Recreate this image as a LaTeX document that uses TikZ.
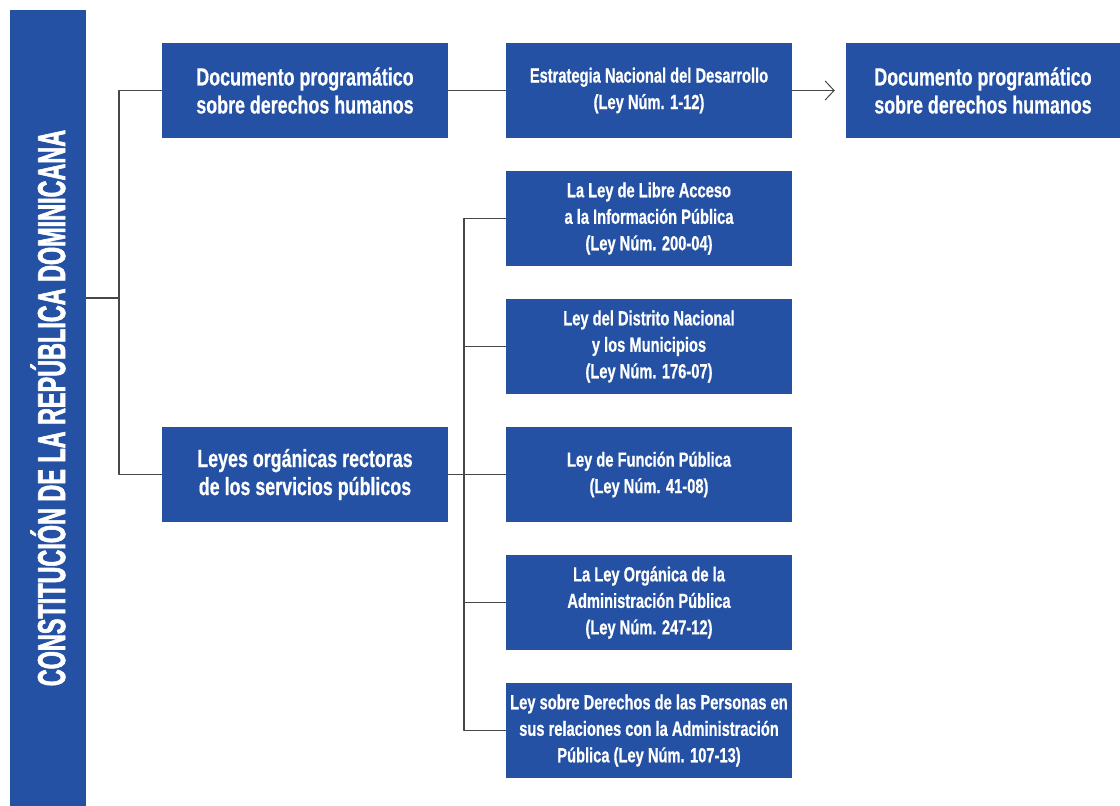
\documentclass[tikz,border=0pt]{standalone}
\usepackage{fontspec}
\usetikzlibrary{arrows.meta}
\newfontfamily\boxfont[FakeStretch=0.72,FakeBold=0.6]{Liberation Sans}
\newfontfamily\barfont[FakeStretch=0.6,FakeBold=1.5]{Liberation Sans}
\definecolor{rdblue}{RGB}{36,81,163}
\begin{document}
\begin{tikzpicture}[x=1pt,y=-1pt,line join=round,
	box/.style={fill=rdblue,text=white,align=center,inner sep=0pt,minimum width=286pt,minimum height=95pt,font=\boxfont\bfseries\fontsize{24.8}{28}\selectfont},
	ley/.style={box,font=\boxfont\bfseries\fontsize{20.4}{26.5}\selectfont},
	link/.style={draw=black!72,line width=1.3pt}]
	\useasboundingbox (0,0) rectangle (1120,806);
	\node[fill=rdblue,text=white,rotate=90,minimum width=796pt,minimum height=76pt,inner sep=0pt] (con) at (48,408)
		{\barfont\bfseries\fontsize{39}{39}\selectfont CONSTITUCIÓN DE LA REPÚBLICA DOMINICANA};
	\node[box] (doc) at (305,90.5) {Documento programático\\sobre derechos humanos};
	\node[box] (org) at (305,474.5) {Leyes orgánicas rectoras\\de los servicios públicos};
	\node[ley] (end) at (649,90.5) {Estrategia Nacional del Desarrollo\\(Ley Núm. 1-12)};
	\node[box,minimum width=274pt] (doc2) at (983,90.5) {Documento programático\\sobre derechos humanos};
	% leyes
	\node[ley] (lib) at (649,218.5) {La Ley de Libre Acceso\\a la Información Pública\\(Ley Núm. 200-04)};
	\node[ley] (dis) at (649,346.5) {Ley del Distrito Nacional\\y los Municipios\\(Ley Núm. 176-07)};
	\node[ley] (fun) at (649,474.5) {Ley de Función Pública\\(Ley Núm. 41-08)};
	\node[ley] (adm) at (649,602.5) {La Ley Orgánica de la\\Administración Pública\\(Ley Núm. 247-12)};
	\node[ley] (per) at (649,730.5) {Ley sobre Derechos de las Personas en\\sus relaciones con la Administración\\Pública (Ley Núm. 107-13)};
	\coordinate (j1) at (119,298);
	\coordinate (j2) at (464,474.5);
	\draw[link] (con.south |- j1) -- (j1);
	\draw[link] (doc.west) -| (j1) |- (org.west);
	\draw[link] (doc.east) -- (end.west);
	\draw[link,-{Straight Barb[length=9pt,width=19pt,line width=1pt]},shorten >=11pt] (end.east) -- (doc2.west);
	\draw[link] (org.east) -- (fun.west);
	\draw[link] (lib.west) -| (j2) |- (per.west);
	\draw[link] (dis.west) -- (dis.west -| j2);
	\draw[link] (adm.west) -- (adm.west -| j2);
\end{tikzpicture}
\end{document}
